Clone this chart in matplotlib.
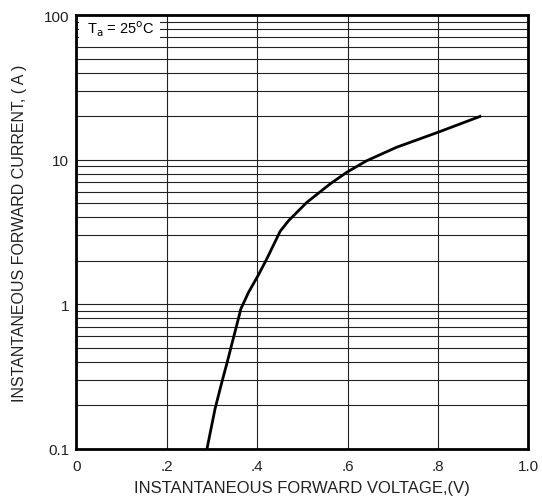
import matplotlib
matplotlib.use('Agg')
import matplotlib.pyplot as plt
from matplotlib.patches import Rectangle
from matplotlib.ticker import FixedLocator, LogLocator, NullFormatter

plt.rcParams['font.family'] = ['Liberation Sans', 'DejaVu Sans']

# curve
voltage = [0.289, 0.307, 0.322, 0.334, 0.344, 0.355, 0.364, 0.381, 0.403, 0.421,
           0.451, 0.470, 0.510, 0.561, 0.598, 0.642, 0.709, 0.801, 0.893]
current = [0.1, 0.19, 0.29, 0.40, 0.53, 0.72, 0.93, 1.21, 1.6, 2.05,
           3.2, 3.8, 5.07, 6.78, 8.17, 9.82, 12.2, 15.5, 19.9]

x_ticks = [0, 0.2, 0.4, 0.6, 0.8, 1.0]
x_labels = ['0', '.2', '.4', '.6', '.8', '1.0']
y_ticks = [0.1, 1, 10, 100]
y_labels = ['0.1', '1', '10', '100']

fig = plt.figure(figsize=(5.42, 5.02), dpi=100)
ax = fig.add_axes([0.1408, 0.1036, 0.834, 0.8645])

ax.set_yscale('log')
ax.set_xlim(0, 1.0)
ax.set_ylim(0.1, 100)

ax.plot(voltage, current, color='black', lw=2, solid_joinstyle='round', zorder=3)

ax.xaxis.set_major_locator(FixedLocator(x_ticks))
ax.set_xticklabels(x_labels)
ax.yaxis.set_major_locator(FixedLocator(y_ticks))
ax.set_yticklabels(y_labels)
ax.yaxis.set_minor_locator(LogLocator(base=10, subs=range(2, 10)))
ax.yaxis.set_minor_formatter(NullFormatter())

ax.grid(True, which='both', axis='y', color='#222222', lw=0.8)
ax.grid(True, which='major', axis='x', color='#222222', lw=0.8)
ax.tick_params(which='both', length=0, labelsize=11, colors='#222222')
ax.tick_params(axis='x', pad=7)
ax.tick_params(axis='y', pad=5)

for sp in ax.spines.values():
    sp.set_linewidth(2)

# white label box over the grid
ax.add_patch(Rectangle((0.006, 0.940), 0.179, 0.06, transform=ax.transAxes,
                       fc='white', ec='none', zorder=2.5))
ax.text(0.024, 0.970, r'T$_{\mathrm{a}}$ = 25$^{\mathrm{o}}$C', transform=ax.transAxes,
        ha='left', va='center', fontsize=10.5, zorder=4)

ax.set_xlabel('INSTANTANEOUS FORWARD VOLTAGE,(V)', fontsize=12, labelpad=5, color='#222222')
ax.set_ylabel('INSTANTANEOUS FORWARD CURRENT, ( A )', fontsize=11.5, labelpad=12, color='#222222')

fig.savefig('out.png', dpi=100)
